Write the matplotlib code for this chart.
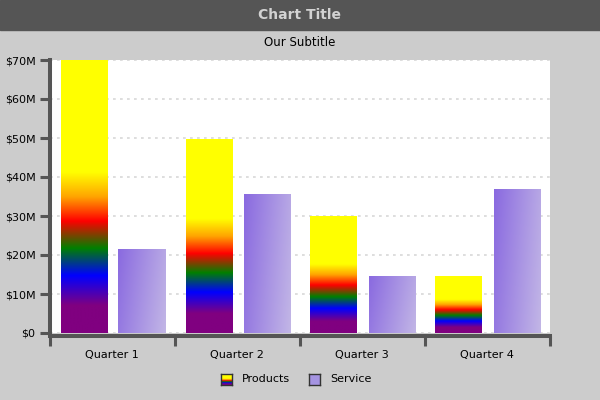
import numpy as np
import matplotlib
matplotlib.use("Agg")
import matplotlib.pyplot as plt
from matplotlib.colors import LinearSegmentedColormap
from matplotlib.patches import Rectangle
from matplotlib.ticker import FixedLocator, FuncFormatter, NullFormatter

# ==========================================
# DATA
# ==========================================

quarters = ["Quarter 1", "Quarter 2", "Quarter 3", "Quarter 4"]

products = [70.0, 49.7, 30.0, 14.6]   # $M
service = [21.5, 35.6, 14.6, 36.7]    # $M

y_ticks = [0, 10, 20, 30, 40, 50, 60, 70]

# ==========================================
# STYLE
# ==========================================

axis_gray = "#555555"

products_cmap = LinearSegmentedColormap.from_list(
    "products",
    [(0.0, "#800080"), (0.1, "#800080"), (0.21, "#0000ff"),
     (0.31, "#008000"), (0.41, "#ff0000"), (0.5, "#ffa500"),
     (0.59, "#ffff00"), (1.0, "#ffff00")]
)

service_cmap = LinearSegmentedColormap.from_list(
    "service", ["#8a6ae0", "#c2b6e6"]
)

grad_v = np.linspace(0, 1, 256).reshape(-1, 1)

gx, gy = np.meshgrid(np.linspace(0, 1, 64), np.linspace(0, 1, 128))
grad_d = 0.8 * gx + 0.2 * (1 - gy)

# ==========================================
# FIGURE
# ==========================================

fig = plt.figure(figsize=(6, 4), dpi=100, facecolor="#cccccc")

fig.patches.append(Rectangle(
    (0, 1 - 30 / 400), 1, 30 / 400,
    transform=fig.transFigure, color=axis_gray, zorder=0
))

fig.text(0.5, 1 - 15 / 400, "Chart Title", ha="center", va="center",
         fontsize=10, fontweight="bold", color="#d2d2d2")

fig.text(0.5, 1 - 42 / 400, "Our Subtitle", ha="center", va="center",
         fontsize=8.5, color="black")

ax = fig.add_axes([49.5 / 600, 67 / 400, 500 / 600, 273 / 400])
ax.set_facecolor("white")

x = np.arange(len(quarters))

prod_bars = ax.bar(x + 0.276, products, width=0.376,
                   facecolor="none", edgecolor="none")
serv_bars = ax.bar(x + 0.74, service, width=0.376,
                   facecolor="none", edgecolor="none")

for bar in prod_bars:
    x0, y0 = bar.get_x(), bar.get_y()
    ax.imshow(grad_v, cmap=products_cmap, origin="lower", aspect="auto",
              extent=(x0, x0 + bar.get_width(), y0, y0 + bar.get_height()),
              zorder=2, interpolation="bilinear")

for bar in serv_bars:
    x0, y0 = bar.get_x(), bar.get_y()
    ax.imshow(grad_d, cmap=service_cmap, origin="lower", aspect="auto",
              extent=(x0, x0 + bar.get_width(), y0, y0 + bar.get_height()),
              zorder=2, interpolation="bilinear")

ax.set_xlim(0, len(quarters))
ax.set_ylim(0, 70)

# grid
ax.yaxis.grid(True, color="#dedede", linestyle=(0, (1.4, 2.2)),
              linewidth=1.4, zorder=1)
ax.set_axisbelow(True)

# spines
for side in ["top", "right"]:
    ax.spines[side].set_visible(False)
for side in ["left", "bottom"]:
    ax.spines[side].set_color(axis_gray)
    ax.spines[side].set_linewidth(2.9)
    ax.spines[side].set_zorder(5)
ax.spines["bottom"].set_position(("outward", 2))
ax.spines["bottom"].set_capstyle("projecting")

# y axis
ax.set_yticks(y_ticks)
ax.yaxis.set_major_formatter(
    FuncFormatter(lambda v, p: "$0" if v == 0 else f"${v:.0f}M")
)
ax.tick_params(axis="y", length=7, width=2.2, color=axis_gray,
               pad=3, labelsize=8)

# x axis: ticks on category boundaries, labels in the middle
ax.xaxis.set_major_locator(FixedLocator(np.arange(len(quarters) + 1)))
ax.xaxis.set_major_formatter(NullFormatter())
ax.xaxis.set_minor_locator(FixedLocator(x + 0.5))
ax.set_xticklabels(quarters, minor=True)
ax.tick_params(axis="x", which="major", length=7, width=2.2,
               color=axis_gray)
ax.tick_params(axis="x", which="minor", length=0, pad=10, labelsize=8)

# ==========================================
# LEGEND
# ==========================================

sw1 = fig.add_axes([221 / 600, 15 / 400, 11 / 600, 11 / 400])
sw1.imshow(grad_v, cmap=products_cmap, origin="lower", aspect="auto")
sw2 = fig.add_axes([309 / 600, 15 / 400, 11 / 600, 11 / 400])
sw2.set_facecolor("#a594e2")
for sw in (sw1, sw2):
    sw.set_xticks([])
    sw.set_yticks([])
    for s in sw.spines.values():
        s.set_color("#333333")
        s.set_linewidth(1)

fig.text(242 / 600, 20.5 / 400, "Products", ha="left", va="center",
         fontsize=8)
fig.text(330 / 600, 20.5 / 400, "Service", ha="left", va="center",
         fontsize=8)

plt.savefig("out.png", dpi=100, facecolor=fig.get_facecolor())
